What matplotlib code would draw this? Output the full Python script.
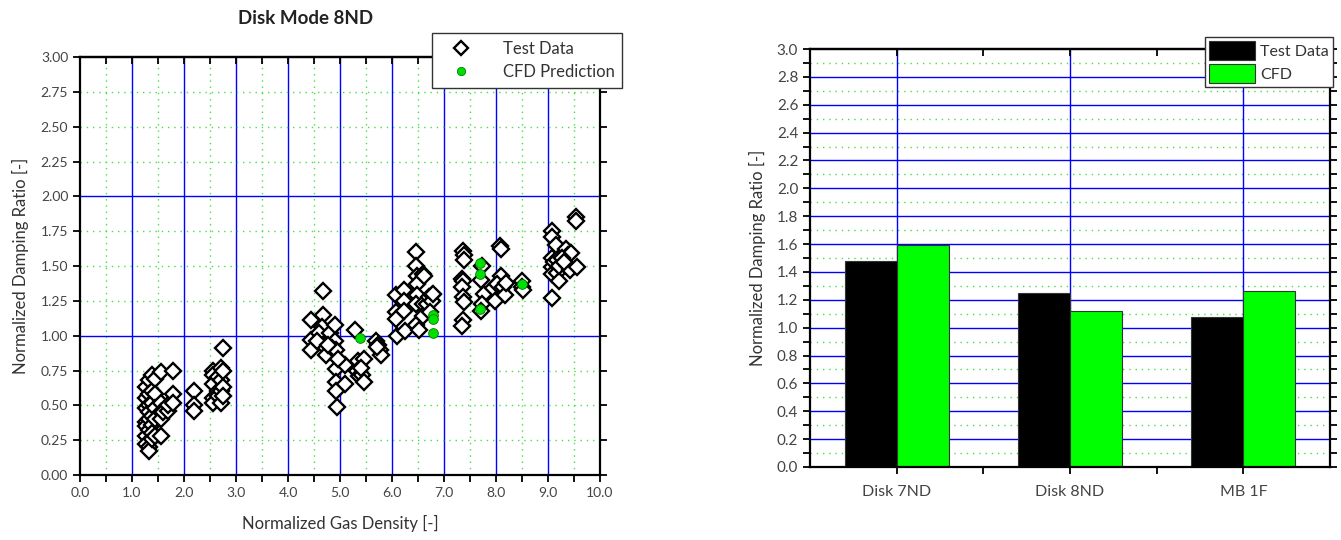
import matplotlib.pyplot as plt
import numpy as np

plt.rcParams['font.family'] = ['Lato', 'DejaVu Sans']

# ---- left chart data: Disk Mode 8ND ----
test_x = [1.27, 1.27, 1.27, 1.27, 1.27, 1.27, 1.27,
          1.32, 1.32, 1.32, 1.32, 1.32, 1.32, 1.32, 1.32,
          1.38, 1.38, 1.38, 1.38, 1.38, 1.38, 1.38,
          1.45, 1.45, 1.45, 1.45, 1.45,
          1.55, 1.55, 1.55, 1.55, 1.55, 1.60, 1.70, 1.70,
          1.78, 1.78, 1.78,
          2.20, 2.20, 2.20,
          2.55, 2.55, 2.55, 2.55, 2.55, 2.65, 2.65, 2.65,
          2.72, 2.72, 2.72, 2.72, 2.75, 2.75, 2.75, 2.75,
          4.45, 4.45, 4.45, 4.68, 4.68, 4.65, 4.68, 4.73, 4.60, 4.80,
          4.90, 4.90, 4.85, 4.93, 4.93, 4.93, 4.95, 5.10, 5.10, 4.93,
          4.97, 4.56, 4.77,
          5.28, 5.34, 5.32, 5.36, 5.46, 5.43, 5.47, 5.40,
          5.70, 5.74, 5.76, 5.78, 5.72,
          6.07, 6.08, 6.08, 6.09, 6.23, 6.23, 6.23, 6.25,
          6.47, 6.47, 6.49, 6.49, 6.49, 6.47, 6.47, 6.52,
          6.59, 6.59, 6.60, 6.62, 6.68, 6.72, 6.76, 6.76, 6.74, 6.78,
          7.37, 7.39, 7.39, 7.35, 7.37, 7.35, 7.37, 7.39, 7.37, 7.35,
          7.73, 7.71, 7.77, 7.73, 7.71,
          8.08, 8.10, 8.10, 7.94, 7.98, 8.02, 8.14, 8.18, 8.20,
          8.50, 8.50, 8.52,
          9.08, 9.08, 9.08, 9.15, 9.07, 9.07, 9.07, 9.11, 9.18, 9.18,
          9.21, 9.22, 9.34, 9.38, 9.39, 9.42, 9.45, 9.55, 9.53, 9.53,
          9.27, 9.31]
test_y = [0.63, 0.55, 0.48, 0.38, 0.35, 0.28, 0.22,
          0.68, 0.58, 0.50, 0.45, 0.40, 0.32, 0.20, 0.17,
          0.72, 0.60, 0.52, 0.42, 0.36, 0.30, 0.26,
          0.69, 0.58, 0.48, 0.40, 0.28,
          0.74, 0.52, 0.45, 0.40, 0.28, 0.45, 0.46, 0.50,
          0.75, 0.58, 0.52,
          0.60, 0.50, 0.46,
          0.75, 0.72, 0.65, 0.55, 0.52, 0.70, 0.60, 0.57,
          0.77, 0.68, 0.60, 0.52, 0.91, 0.75, 0.63, 0.57,
          1.11, 0.97, 0.90, 1.32, 1.15, 1.06, 0.93, 0.86, 1.02, 1.02,
          1.08, 0.96, 0.91, 0.76, 0.67, 0.60, 0.49, 0.79, 0.65, 0.90,
          0.83, 0.96, 0.93,
          1.04, 0.82, 0.75, 0.71, 0.83, 0.72, 0.67, 0.77,
          0.96, 0.93, 0.90, 0.86, 0.92,
          1.29, 1.17, 1.12, 1.00, 1.33, 1.25, 1.18, 1.03,
          1.60, 1.50, 1.43, 1.37, 1.29, 1.23, 1.08, 1.04,
          1.23, 1.14, 1.44, 1.43, 1.23, 1.28, 1.29, 1.25, 1.17, 1.30,
          1.61, 1.58, 1.54, 1.41, 1.39, 1.35, 1.28, 1.24, 1.11, 1.07,
          1.50, 1.40, 1.30, 1.23, 1.18,
          1.64, 1.62, 1.43, 1.34, 1.25, 1.37, 1.35, 1.29, 1.38,
          1.39, 1.35, 1.33,
          1.27, 1.75, 1.71, 1.65, 1.56, 1.49, 1.44, 1.53, 1.54, 1.45,
          1.39, 1.50, 1.62, 1.58, 1.50, 1.47, 1.59, 1.49, 1.85, 1.82,
          1.56, 1.53]
cfd_x = [5.38, 6.78, 6.78, 6.78, 7.70, 7.70, 7.70, 8.50]
cfd_y = [0.98, 1.15, 1.12, 1.02, 1.52, 1.44, 1.19, 1.37]

# ---- right chart data ----
categories = ['Disk 7ND', 'Disk 8ND', 'MB 1F']
bar_test = [1.48, 1.25, 1.08]
bar_cfd = [1.59, 1.12, 1.26]

blue = '#0000ff'
green = '#00ff00'
dot_green = '#44e044'
tick_col = '#444444'

fig = plt.figure(figsize=(13.41, 5.4), dpi=100)

# ================= left: scatter =================
ax1 = fig.add_axes([80/1341, 1-475/540, 520/1341, 418/540])
ax1.set_xlim(0, 10)
ax1.set_ylim(0, 3)
for v in np.arange(0.5, 10, 1.0):
    ax1.axvline(v, color=dot_green, ls=(0, (1, 3.5)), lw=1, zorder=0)
for v in np.arange(1, 10):
    ax1.axvline(v, color=blue, lw=1, zorder=0)
for v in [0.25, 0.5, 0.75, 1.25, 1.5, 1.75, 2.25, 2.5, 2.75]:
    ax1.axhline(v, color=dot_green, ls=(0, (1, 3.5)), lw=1, zorder=0)
for v in [1, 2]:
    ax1.axhline(v, color=blue, lw=1, zorder=0)

ax1.plot(test_x, test_y, ls='none', marker='D', ms=8, mfc='white',
         mec='black', mew=1.7, label='Test Data', zorder=3)
ax1.plot(cfd_x, cfd_y, ls='none', marker='o', ms=7, mfc='#00e000',
         mec='#007700', mew=0.6, label='CFD Prediction', zorder=4)

ax1.set_xticks(np.arange(0, 10.01, 1.0))
ax1.set_xticklabels(['%.1f' % v for v in np.arange(0, 10.01, 1.0)])
ax1.set_xticks(np.arange(0.5, 10, 1.0), minor=True)
ax1.set_yticks(np.arange(0, 3.01, 0.25))
ax1.set_yticklabels(['%.2f' % v for v in np.arange(0, 3.01, 0.25)])
ax1.tick_params(which='both', direction='out', length=5, width=1.3,
                labelsize=10, labelcolor=tick_col, right=True)
for s in ax1.spines.values():
    s.set_linewidth(1.6)
top1 = ax1.secondary_xaxis('top')
top1.set_xticks(np.arange(0, 10.01, 0.5))
top1.tick_params(direction='in', length=5, width=1.3, labeltop=False)
top1.spines['top'].set_linewidth(1.6)

ax1.set_xlabel('Normalized Gas Density [-]', fontsize=12, color='#333333', labelpad=12)
ax1.set_ylabel('Normalized Damping Ratio [-]', fontsize=12, color='#333333', labelpad=8)
fig.text(306/1341, 1-18/540, 'Disk Mode 8ND', fontsize=13.5, fontweight='bold',
         ha='center', va='center', color='#222222')

leg1 = ax1.legend(loc='upper left', bbox_to_anchor=(432/1341, 1-33/540),
                  bbox_transform=fig.transFigure, fancybox=False, framealpha=1,
                  edgecolor='#333333', fontsize=12, borderpad=0.45,
                  handlelength=2.6, handletextpad=1.2, labelspacing=0.45,
                  borderaxespad=0, markerscale=0.85)
leg1.get_frame().set_linewidth(1.0)
for t in leg1.get_texts():
    t.set_color('#333333')

# ================= right: bars =================
ax2 = fig.add_axes([810/1341, 1-467/540, 520/1341, 418/540])
ax2.set_xlim(-0.5, 2.5)
ax2.set_ylim(0, 3)
for v in np.arange(0.1, 3.0, 0.2):
    ax2.axhline(v, color=dot_green, ls=(0, (1, 3.5)), lw=1, zorder=0)
for v in np.arange(0.2, 2.9, 0.2):
    ax2.axhline(v, color=blue, lw=1, zorder=0)
xpos = np.arange(len(categories))
for v in xpos:
    ax2.axvline(v, color=blue, lw=1, zorder=0)

w = 0.3
ax2.bar(xpos - w/2, bar_test, w, color='black', edgecolor='#333333', lw=0.8,
        label='Test Data', zorder=2)
ax2.bar(xpos + w/2, bar_cfd, w, color=green, edgecolor='#333333', lw=0.8,
        label='CFD', zorder=2)

ax2.set_xticks(xpos)
ax2.set_xticklabels(categories)
ax2.set_xticks([0.5, 1.5], minor=True)
ax2.set_yticks(np.arange(0, 3.01, 0.2))
ax2.set_yticklabels(['%.1f' % v for v in np.arange(0, 3.01, 0.2)])
ax2.set_yticks(np.arange(0.1, 3.0, 0.2), minor=True)
ax2.tick_params(which='both', direction='out', length=5, width=1.3,
                labelsize=11, labelcolor=tick_col, right=True)
ax2.tick_params(axis='x', labelsize=11.5, pad=8)
for s in ax2.spines.values():
    s.set_linewidth(1.6)
top2 = ax2.secondary_xaxis('top')
top2.set_xticks([-0.5, 0, 0.5, 1, 1.5, 2, 2.5])
top2.tick_params(direction='in', length=5, width=1.3, labeltop=False)
top2.spines['top'].set_linewidth(1.6)

ax2.set_ylabel('Normalized Damping Ratio [-]', fontsize=12, color='#333333', labelpad=8)

leg2 = ax2.legend(loc='upper left', bbox_to_anchor=(1205/1341, 1-37/540),
                  bbox_transform=fig.transFigure, fancybox=False, framealpha=1,
                  edgecolor='#333333', fontsize=11.5, borderpad=0.25,
                  handlelength=2.9, handleheight=1.5, handletextpad=0.3,
                  labelspacing=0.2, borderaxespad=0)
leg2.get_frame().set_linewidth(1.0)
for t in leg2.get_texts():
    t.set_color('#333333')

fig.savefig('out.png', dpi=100)
